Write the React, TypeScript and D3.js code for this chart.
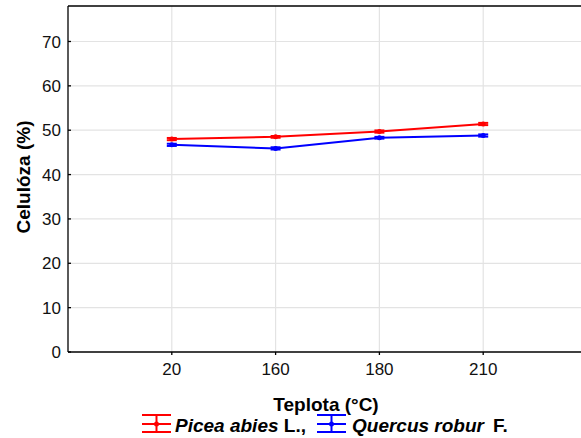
import React from "react";
import * as d3 from "d3";

const categories = ["20", "160", "180", "210"];
const piceaValues = [48.0, 48.5, 49.7, 51.4];
const quercusValues = [46.7, 45.9, 48.3, 48.8];
const piceaErr = [0.25, 0.2, 0.25, 0.25];
const quercusErr = [0.25, 0.25, 0.2, 0.25];
const yTicks = [0, 10, 20, 30, 40, 50, 60, 70];

const W = 581;
const H = 438;
const left = 68;
const right = 587;
const top = 6;
const bottom = 352;

export default function App() {
  const x = d3
    .scalePoint<string>()
    .domain(["", ...categories, " "])
    .range([left, right]);
  const y = d3.scaleLinear().domain([0, 78]).range([bottom, top]);
  const line = d3
    .line<number>()
    .x((_, i) => x(categories[i]) as number)
    .y((d) => y(d));

  const series = [
    { name: "picea", values: piceaValues, err: piceaErr, color: "#ff0000" },
    { name: "quercus", values: quercusValues, err: quercusErr, color: "#0000ff" },
  ];
  const font = "Arial, 'Liberation Sans', sans-serif";

  const legendSym = (x0: number, color: string) => (
    <g stroke={color} strokeWidth={2}>
      <line x1={x0} x2={x0 + 29} y1={415} y2={415} />
      <line x1={x0} x2={x0 + 29} y1={424} y2={424} />
      <line x1={x0} x2={x0 + 29} y1={432} y2={432} />
      <line x1={x0 + 14.5} x2={x0 + 14.5} y1={415} y2={432} />
      <circle cx={x0 + 14.5} cy={424} r={2.5} fill={color} stroke="none" />
    </g>
  );

  return (
    <svg width={W} height={H} style={{ position: "absolute", left: 0, top: 0, background: "#fff" }}>
      <rect x={0} y={0} width={W} height={H} fill="#fff" />
      {/* grid */}
      <g stroke="#e3e3e3" strokeWidth={1.2}>
        {yTicks.filter((t) => t > 0).map((t) => (
          <line key={t} x1={left} x2={right} y1={y(t)} y2={y(t)} />
        ))}
        {categories.map((c) => (
          <line key={c} x1={x(c)} x2={x(c)} y1={top} y2={bottom} />
        ))}
      </g>
      {/* frame */}
      <g stroke="#000" strokeWidth={1.3} fill="none">
        <line x1={left} x2={right} y1={top} y2={top} />
        <line x1={left} x2={left} y1={top} y2={bottom} />
        <line x1={left} x2={right} y1={bottom} y2={bottom} />
        {yTicks.map((t) => (
          <line key={t} x1={left} x2={left + 3} y1={y(t)} y2={y(t)} />
        ))}
        {categories.map((c) => (
          <line key={c} x1={x(c)} x2={x(c)} y1={bottom} y2={bottom + 3} />
        ))}
      </g>
      {/* tick labels */}
      <g fontFamily={font} fontSize={17} fill="#111">
        {yTicks.map((t) => (
          <text key={t} x={left - 7} y={y(t)} dy="0.36em" textAnchor="end">
            {t}
          </text>
        ))}
        {categories.map((c) => (
          <text key={c} x={x(c)} y={375} textAnchor="middle">
            {c}
          </text>
        ))}
      </g>
      {/* series */}
      {series.map((s) => (
        <g key={s.name}>
          <path d={line(s.values) || ""} fill="none" stroke={s.color} strokeWidth={2} />
          {s.values.map((v, i) => {
            const cx = x(categories[i]) as number;
            return (
              <g key={i} stroke={s.color} strokeWidth={2}>
                <line x1={cx} x2={cx} y1={y(v - s.err[i])} y2={y(v + s.err[i])} />
                <line x1={cx - 5} x2={cx + 5} y1={y(v - s.err[i])} y2={y(v - s.err[i])} />
                <line x1={cx - 5} x2={cx + 5} y1={y(v + s.err[i])} y2={y(v + s.err[i])} />
                <circle cx={cx} cy={y(v)} r={2.5} fill={s.color} stroke="none" />
              </g>
            );
          })}
        </g>
      ))}
      {/* axis titles */}
      <text x={326} y={411} textAnchor="middle" fontFamily={font} fontWeight="bold" fontSize={19} fill="#000">
        Teplota (°C)
      </text>
      <text
        transform={`translate(30, 177) rotate(-90)`}
        textAnchor="middle"
        fontFamily={font}
        fontWeight="bold"
        fontSize={19}
        fill="#000"
      >
        Celulóza (%)
      </text>
      {/* legend */}
      {legendSym(142, "#ff0000")}
      <text x={175} y={432} fontFamily={font} fontWeight="bold" fontSize={19} fill="#000">
        <tspan fontStyle="italic">Picea abies</tspan>
        <tspan> L.,</tspan>
      </text>
      {legendSym(317, "#0000ff")}
      <text fontFamily={font} fontWeight="bold" fontSize={19} fill="#000" y={432}>
        <tspan x={352} fontStyle="italic">Quercus robur</tspan>
        <tspan x={493}>F.</tspan>
      </text>
    </svg>
  );
}
